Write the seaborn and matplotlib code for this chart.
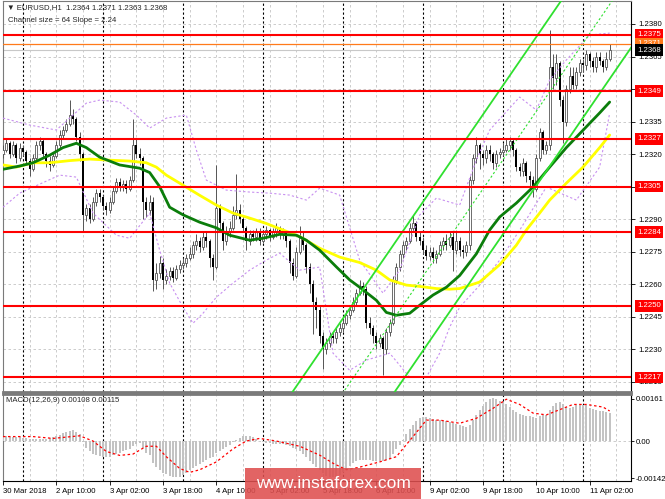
import numpy as np
import matplotlib
matplotlib.use("Agg")
import matplotlib.pyplot as plt
import matplotlib.transforms as mtransforms
from matplotlib.patches import Rectangle
import seaborn as sns

# prices are kept in pips above BASE
BASE = 1.2200

# EURUSD H1, 30 Mar 18:00 .. 11 Apr 08:00 (one value per hourly bar)
first_open_pips = 120
close_pips = [122, 125, 120, 124, 118, 123, 121, 117, 113, 118,
              124, 126, 120, 117, 115, 119, 124, 129, 131, 134,
              138, 136, 128, 120, 92, 95, 90, 98, 102, 100,
              96, 94, 98, 103, 107, 105, 106, 104, 108, 124,
              120, 118, 98, 94, 98, 62, 65, 70, 62, 64,
              66, 63, 67, 69, 70, 72, 74, 78, 80, 77,
              82, 80, 72, 68, 95, 88, 80, 84, 86, 92,
              94, 90, 86, 80, 83, 82, 84, 80, 83, 85,
              82, 84, 86, 83, 84, 80, 70, 64, 75, 82,
              78, 68, 60, 52, 48, 36, 30, 33, 36, 35,
              38, 40, 42, 46, 48, 52, 56, 59, 58, 42,
              40, 36, 33, 35, 30, 38, 42, 62, 68, 74,
              78, 80, 86, 88, 82, 80, 76, 73, 75, 72,
              74, 78, 80, 78, 82, 76, 80, 76, 75, 78,
              108, 118, 124, 120, 118, 122, 120, 116, 120, 121,
              122, 124, 126, 122, 114, 112, 116, 110, 108, 104,
              118, 130, 122, 124, 160, 155, 162, 145, 135, 150,
              156, 152, 158, 162, 161, 166, 163, 160, 165, 163,
              160, 164, 168]
high_pips = [124, 127, 126, 126, 125, 125, 124, 122, 118, 120,
             126, 128, 127, 121, 119, 121, 126, 131, 133, 136,
             145, 141, 137, 130, 121, 97, 97, 100, 104, 104,
             101, 98, 100, 105, 109, 109, 108, 108, 110, 136,
             127, 123, 119, 100, 101, 100, 70, 73, 72, 67,
             68, 68, 69, 71, 72, 74, 77, 80, 83, 82,
             84, 84, 81, 74, 115, 97, 89, 87, 89, 96,
             111, 97, 92, 87, 85, 85, 86, 86, 85, 87,
             86, 86, 88, 87, 86, 85, 81, 72, 77, 87,
             84, 79, 70, 62, 54, 50, 38, 35, 38, 38,
             40, 42, 44, 48, 50, 54, 58, 62, 61, 59,
             45, 41, 38, 37, 36, 40, 44, 64, 70, 76,
             80, 82, 88, 92, 89, 84, 82, 78, 77, 77,
             76, 80, 82, 83, 84, 84, 84, 82, 78, 80,
             110, 120, 128, 125, 122, 124, 124, 121, 122, 123,
             125, 127, 128, 127, 123, 116, 118, 117, 112, 110,
             120, 132, 131, 126, 177, 166, 166, 163, 147, 152,
             160, 160, 160, 164, 164, 168, 167, 165, 167, 167,
             164, 167, 171]
low_pips = [118, 121, 118, 119, 116, 117, 119, 115, 110, 112,
            117, 122, 118, 114, 112, 114, 118, 123, 127, 130,
            133, 134, 126, 117, 84, 89, 88, 89, 96, 98,
            94, 92, 93, 97, 102, 103, 103, 102, 103, 107,
            118, 115, 90, 91, 92, 57, 58, 63, 58, 60,
            62, 61, 62, 65, 67, 68, 71, 72, 76, 75,
            76, 77, 68, 62, 67, 85, 76, 78, 82, 85,
            90, 88, 84, 76, 78, 80, 80, 78, 79, 81,
            80, 81, 82, 81, 81, 77, 65, 62, 63, 74,
            76, 65, 56, 37, 40, 33, 21, 28, 31, 33,
            33, 36, 38, 41, 44, 47, 50, 55, 55, 40,
            37, 33, 30, 31, 18, 28, 36, 41, 60, 66,
            72, 76, 79, 84, 80, 78, 74, 71, 71, 70,
            70, 73, 76, 76, 77, 66, 74, 73, 72, 73,
            76, 106, 116, 113, 115, 116, 117, 113, 114, 118,
            119, 121, 122, 119, 112, 110, 110, 107, 104, 100,
            103, 117, 120, 120, 122, 150, 152, 142, 125, 133,
            148, 150, 150, 156, 158, 159, 160, 158, 158, 161,
            158, 159, 163]

# moving averages (bar index, pips)
green_ma_bars = [0, 5, 9, 14, 18, 22, 25, 29, 35, 41, 44, 47, 50, 54, 59, 64, 68,
                 74, 78, 83, 88, 91, 95, 100, 104, 107, 112, 115, 118, 122, 125,
                 129, 133, 137, 142, 146, 149, 154, 159, 164, 169, 174, 179, 182]
green_ma_pips = [113, 114.5, 116, 119.5, 123, 125, 123, 118.6, 115, 113.5, 111.5,
                 105, 95.5, 92, 88.6, 86, 82.6, 80.3, 81.2, 83, 82.6, 80.3, 75.7,
                 68, 62, 58.6, 52.6, 47, 45.7, 46.6, 50.3, 55, 58.6, 64, 74, 85,
                 91, 97.4, 104.8, 114, 123, 131, 139, 144]
yellow_ma_bars = [0, 4, 9, 14, 20, 26, 32, 38, 43, 46, 49, 53, 59, 64, 69, 74, 79,
                  84, 89, 95, 101, 107, 112, 116, 121, 125, 130, 134, 137, 143,
                  149, 154, 157, 161, 164, 169, 174, 179, 182]
yellow_ma_pips = [115, 114, 116, 116, 117, 117.7, 117.2, 116.8, 116, 114, 110.3,
                  106.6, 101, 96.5, 92.8, 90.5, 88, 85, 82, 76.6, 72.5, 70, 66.5,
                  62, 59.6, 59, 58, 57.7, 58, 61, 69, 78, 85, 92.8, 98.8, 106.6,
                  114, 123, 128.8]

# envelope bands (violet dotted)
band_up_bars = [0, 8, 16, 20, 25, 29, 35, 40, 44, 49, 55, 58, 61, 67, 74, 80, 86,
                91, 95, 101, 107, 114, 119, 125, 130, 137, 142, 146, 155, 160,
                164, 169, 176, 182]
band_up_pips = [136.6, 133.4, 131.1, 136.6, 143.5, 144.9, 144, 138, 132, 136.6, 138,
                121.9, 108, 103.4, 102.5, 102, 101.1, 98.8, 104.3, 101.1, 71.1,
                55.9, 66.5, 91.9, 99.7, 96.5, 117.2, 131.1, 146.3, 140.3, 154.2,
                163.4, 174.9, 175.8]
band_dn_bars = [0, 5, 17, 22, 27, 34, 38, 44, 47, 50, 54, 57, 60, 64, 69, 74, 79,
                83, 89, 95, 99, 104, 109, 116, 122, 127, 131, 134, 137, 143, 149,
                155, 163, 172, 179, 182]
band_dn_pips = [95.5, 102, 110.3, 109.4, 92.8, 82.6, 81.2, 92.8, 75.7, 60.5, 49.4,
                42, 46.6, 54, 60.5, 66.5, 71.1, 74.3, 66.5, 67.9, 28.2, 20.3, 25,
                28.2, 17.1, 17.1, 28.2, 40.2, 49.4, 59.5, 71.1, 84.9, 104.8, 98.8,
                114, 138.9]

# regression channel, 64 bars, slope 2.24 pips/bar
channel_first_bar, channel_last_bar = 119, 182
channel_mid_first, channel_mid_last = 1.2248, 1.2389
channel_half = 0.00343

red_levels = [1.2375, 1.2349, 1.2327, 1.2305, 1.2284, 1.2250, 1.2217]
orange_level = 1.2371
last_price = 1.2368

# MACD(12,26,9): histogram in 1e-5 units, signal samples
macd_hist = [17, 18, 17, 16, 15, 14,
             12, 10, 8, 7, 6, 7, 8, 9, 10,
             14, 18, 24, 30, 36, 40, 42,
             36, 25,
             -5, -25, -40, -50, -55, -58, -60, -62, -60,
             -55, -50, -45, -40, -35, -30, -20, -12, -8,
             -25, -45, -55,
             -85, -100, -112, -122, -128, -132, -136, -138, -136, -130, -122,
             -112, -104, -96, -88, -80, -72, -66, -60, -45, -38, -30, -22, -14, -5, 5,
             12, 18, 20, 18, 14,
             8, 2, -3, -6, -8, -10, -10, -12, -12, -14, -18,
             -25, -32, -40, -50, -62, -75, -88, -100, -112, -124, -132, -137,
             -138, -136, -130,
             -120, -108, -96, -86, -78,
             -74, -72, -72, -74, -75, -76, -76, -75, -72, -68,
             -50, -32, -15,
             5, 25, 45, 62, 78, 90,
             93, 92, 90,
             86, 82, 80, 78, 76, 74, 70, 66, 60, 56, 55, 62,
             80, 100, 118, 135, 150, 160, 164,
             162, 155, 148, 140, 130, 120, 110, 102, 98, 96,
             95, 92, 90, 94, 98, 100,
             120, 135, 145, 150,
             140, 132, 128, 132,
             136, 138, 138, 136,
             128, 122, 118, 116, 114, 112, 108]
signal_bars = [0, 9, 15, 23, 27, 31, 35, 39, 43, 46, 49, 53, 56, 59, 64, 69, 73,
               77, 82, 89, 95, 99, 103, 107, 113, 118, 123, 127, 131, 137, 142,
               147, 151, 155, 159, 163, 167, 171, 175, 180, 182]
signal_vals = [17, 17, 10, 20, 0, -40, -55, -50, -20, -20, -60, -105, -120, -110,
               -80, -30, 0, 10, 0, -20, -54, -85, -110, -100, -80, -60, 17, 80, 80,
               68, 87, 125, 160, 140, 107, 100, 120, 140, 140, 130, 115]

tick_bars = [0, 16, 32, 48, 64, 80, 96, 112, 128, 144, 160, 176]
tick_labels = ["30 Mar 2018", "2 Apr 10:00", "3 Apr 02:00", "3 Apr 18:00",
               "4 Apr 10:00", "5 Apr 02:00", "5 Apr 18:00", "6 Apr 10:00",
               "9 Apr 02:00", "9 Apr 18:00", "10 Apr 10:00", "11 Apr 02:00"]
day_bars = [6, 30, 54, 78, 102, 126, 150, 174]

sns.set_theme(style="white")
plt.rcParams['font.family'] = ['Liberation Sans', 'DejaVu Sans']

W, H = 665, 499
fig = plt.figure(figsize=(W / 100, H / 100), dpi=100)
ax = fig.add_axes([3 / W, 1 - 392 / H, 628 / W, 391 / H])
mx = fig.add_axes([3 / W, 1 - 481 / H, 628 / W, 87 / H])

grid_kw = dict(color='#c4c4c4', lw=0.6, ls=(0, (3, 3)))
txt = 5.6

# --- price panel
bars = np.arange(len(close_pips))
close = BASE + np.array(close_pips) / 1e4
high = BASE + np.array(high_pips) / 1e4
low = BASE + np.array(low_pips) / 1e4
opn = np.r_[BASE + first_open_pips / 1e4, close[:-1]]
up = close >= opn

ax.set_xlim(0, 188.4)
ax.set_ylim(1.22103, 1.23906)
yt = np.round(np.arange(1.2215, 1.2381, 0.0015), 4)
ax.set_yticks(yt)
ax.set_yticklabels([f"{v:.4f}" for v in yt])
ax.set_xticks(np.arange(8, 189, 8))
ax.tick_params(axis='x', length=0, labelbottom=False)
for v in yt:
    ax.axhline(v, zorder=0, **grid_kw)
for b in np.arange(8, 189, 8):
    ax.axvline(b, zorder=0, **grid_kw)
    mx.axvline(b, zorder=0, **grid_kw)

ax.vlines(bars, low, high, color='#555555', lw=0.7, zorder=3)
ax.bar(bars[up], (close - opn)[up], bottom=opn[up], width=0.62,
       facecolor='white', edgecolor='#555555', lw=0.6, zorder=4)
ax.bar(bars[~up], (opn - close)[~up], bottom=close[~up], width=0.62,
       color='black', lw=0, zorder=4)

sns.lineplot(x=band_up_bars, y=BASE + np.array(band_up_pips) / 1e4, ax=ax,
             color='#c890f0', lw=0.8, ls=(0, (2, 2)), zorder=5)
sns.lineplot(x=band_dn_bars, y=BASE + np.array(band_dn_pips) / 1e4, ax=ax,
             color='#c890f0', lw=0.8, ls=(0, (2, 2)), zorder=5)
sns.lineplot(x=yellow_ma_bars, y=BASE + np.array(yellow_ma_pips) / 1e4, ax=ax,
             color='#ffff00', lw=2.0, zorder=6)
sns.lineplot(x=green_ma_bars, y=BASE + np.array(green_ma_pips) / 1e4, ax=ax,
             color='#0b7d0b', lw=2.0, zorder=6)

# channel drawn as rays through its first/last bar
slope = (channel_mid_last - channel_mid_first) / (channel_last_bar - channel_first_bar)
ray = np.array([60, 190])
mid = channel_mid_first + (ray - channel_first_bar) * slope
ax.plot(ray, mid + channel_half, color='#2fe02f', lw=1.3, zorder=7)
ax.plot(ray, mid - channel_half, color='#2fe02f', lw=1.3, zorder=7)
ax.plot(ray, mid, color='#2fe02f', lw=0.8, ls=(0, (2, 2)), zorder=7)

for lv in red_levels:
    ax.axhline(lv, color='#ff0000', lw=1.5, zorder=8)
ax.axhline(orange_level, color='#ff7a1a', lw=0.9, zorder=8)
ax.axhline(last_price, color='#c8c8c8', lw=0.8, zorder=2)

trans = mtransforms.blended_transform_factory(ax.transAxes, ax.transData)
def price_box(level, fc):
    ax.text(1.0096, level, f"{level:.4f}", transform=trans, fontsize=txt,
            color='white', va='center', ha='left', clip_on=False, zorder=20,
            bbox=dict(boxstyle='square,pad=0.3', fc=fc, ec='none'))

for lv in red_levels:
    price_box(lv, '#ff0000')
price_box(orange_level, '#ff7a1a')
price_box(last_price, 'black')

ax.yaxis.tick_right()
ax.tick_params(axis='y', length=3, width=0.6, pad=2, labelsize=txt, colors='black')

# day separators
for b in day_bars:
    ax.axvline(b, color='black', lw=0.8, ls=(0, (2, 2)), zorder=1)
    mx.axvline(b, color='black', lw=0.8, ls=(0, (2, 2)), zorder=1)

# --- MACD panel
hist = np.array(macd_hist) / 1e5
mx.bar(bars, hist, width=0.6, color='#c3c3c3', lw=0, zorder=3)
sns.lineplot(x=signal_bars, y=np.array(signal_vals) / 1e5, ax=mx,
             color='#ff0000', lw=0.9, ls=(0, (2, 2)), zorder=4)
mx.axhline(0, zorder=0, **grid_kw)
mx.set_xlim(0, 188.4)
mx.set_ylim(-0.00153, 0.0018)
mx.set_yticks([0.00161, 0.0, -0.00142])
mx.set_yticklabels(["0.00161", "0.00", "-0.00142"])
mx.yaxis.tick_right()
mx.tick_params(axis='y', length=2.5, width=0.6, pad=1, labelsize=txt, colors='black')
mx.set_xticks(tick_bars)
mx.set_xticklabels(tick_labels, ha='left')
mx.tick_params(axis='x', length=3, width=0.6, pad=2, labelsize=txt, colors='black',
               bottom=True)
mx.set_xlabel("")
mx.set_ylabel("")
ax.set_xlabel("")
ax.set_ylabel("")

for a in (ax, mx):
    for s in a.spines.values():
        s.set_color('#7a7a7a')
        s.set_linewidth(0.8)
    a.spines['right'].set_color('black')
ax.spines['bottom'].set_linewidth(2)
mx.spines['top'].set_linewidth(2)
mx.spines['bottom'].set_color('black')

fig.text(7 / W, 1 - 8 / H, "\u25bc EURUSD,H1  1.2364 1.2371 1.2363 1.2368",
         fontsize=txt, va='center', ha='left')
fig.text(8 / W, 1 - 20 / H, "Channel size = 64 Slope = 2.24",
         fontsize=txt, va='center', ha='left')
fig.text(6 / W, 1 - 401 / H, "MACD(12,26,9) 0.00108 0.00115",
         fontsize=txt, va='center', ha='left')

# watermark
fig.patches.append(Rectangle((245 / W, 0), 176 / W, 31 / H, transform=fig.transFigure,
                             facecolor='#de4f4f', alpha=0.88, edgecolor='none',
                             zorder=30))
fig.text(333 / W, 15 / H, "www.instaforex.com", fontsize=12.5, color='white',
         ha='center', va='center', zorder=31)

fig.savefig("out.png", dpi=100)
